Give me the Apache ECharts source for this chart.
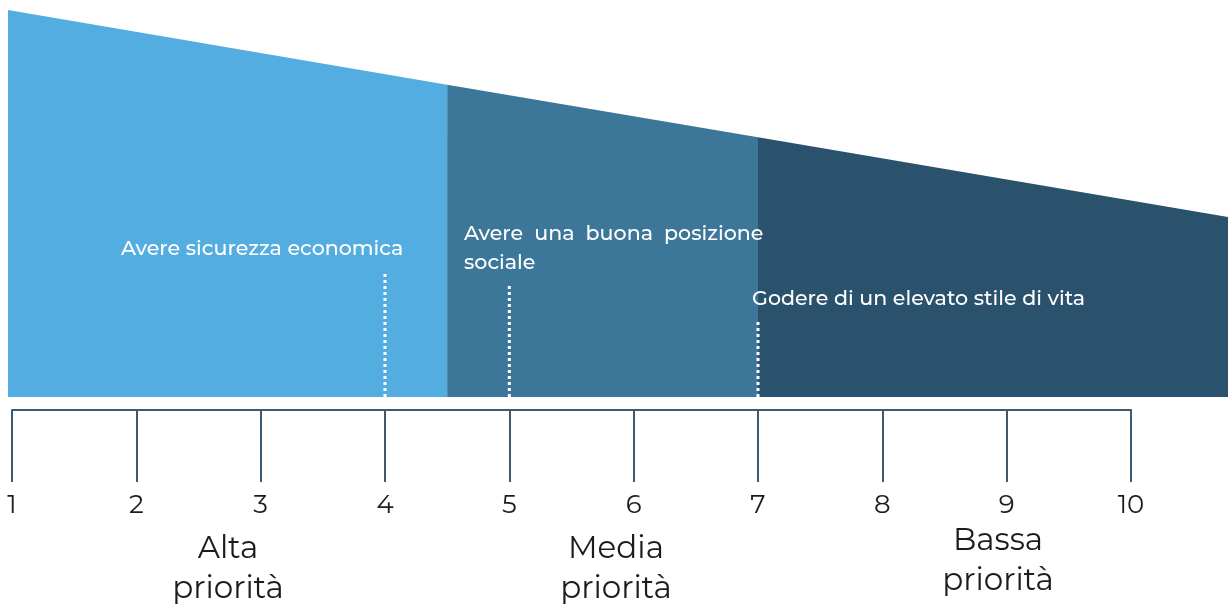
<!DOCTYPE html>
<html>
<head>
<meta charset="utf-8">
<script src="https://cdn.jsdelivr.net/npm/echarts@6/dist/echarts.min.js"></script>
<style>
html,body{margin:0;padding:0;background:#fff;}
#main{width:1228px;height:606px;}
</style>
</head>
<body>
<div id="main"></div>
<script>
// scala 1-10, forma a trapezio divisa in tre fasce
var ticks = [1,2,3,4,5,6,7,8,9,10];
var bandX = [0.968, 4.5, 7.0, 10.78];    // confini delle fasce
var bandTop = [100, 80.7, 67.1, 46.5];   // altezza del bordo superiore ai confini
var bandColors = ['#54ade0','#3c779a','#2a526c'];
var markX = [4, 5, 7];                   // linee tratteggiate
var markTop = [32.3, 28.9, 19.9];
var markText = ['Avere sicurezza economica','Avere una buona posizione sociale','Godere di un elevato stile di vita'];
var groups = ['Alta\npriorità','Media\npriorità','Bassa\npriorità'];

var font = 'Montserrat, "Open Sans", sans-serif';
var axisColor = '#3d5a73';

var series = [];
for(var i=0;i<3;i++){
    series.push({
        type:'line',
        xAxisIndex:0,
        yAxisIndex:0,
        symbol:'none',
        silent:true,
        lineStyle:{width:0},
        areaStyle:{color:bandColors[i],opacity:1},
        data:[[bandX[i],bandTop[i]],[bandX[i+1],bandTop[i+1]]]
    })
}
for(var k=0;k<markX.length;k++){
    series.push({
        type:'line',
        xAxisIndex:0,
        yAxisIndex:0,
        symbol:'none',
        silent:true,
        z:5,
        lineStyle:{color:'#fff',width:3,type:[3,3]},
        data:[[markX[k],0],[markX[k],markTop[k]]]
    })
}

var labelStyle = {fill:'#fff',fontSize:20.6,fontWeight:500,fontFamily:font};
var groupStyle = {fill:'#1c1c1c',fontSize:31,fontFamily:font,align:'center',lineHeight:40};

var option = {
    animation:false,
    grid:[
        {left:8,right:0,top:10,bottom:209},
        {left:12,right:97,top:300,bottom:196}
    ],
    xAxis:[
        {gridIndex:0,type:'value',min:bandX[0],max:bandX[3],show:false},
        {
            gridIndex:1,
            type:'value',
            min:1,
            max:10,
            interval:1,
            splitLine:{show:false},
            axisLine:{show:true,lineStyle:{color:axisColor,width:2}},
            axisTick:{show:true,length:72,lineStyle:{color:axisColor,width:2}},
            axisLabel:{margin:82,fontSize:26,color:'#1c1c1c',fontFamily:font,
                formatter:function(v){return ticks.indexOf(v)>-1?String(v):'';}}
        }
    ],
    yAxis:[
        {gridIndex:0,type:'value',min:0,max:100,show:false},
        {gridIndex:1,type:'value',min:0,max:1,show:false}
    ],
    series:series,
    graphic:[
        {type:'text',z:100,left:121,top:238,style:Object.assign({text:markText[0]},labelStyle)},
        {type:'text',z:100,left:464,top:223,style:Object.assign({text:'Avere  una  buona  posizione'},labelStyle)},
        {type:'text',z:100,left:464,top:252,style:Object.assign({text:'sociale'},labelStyle)},
        {type:'text',z:100,left:752,top:288,style:Object.assign({text:markText[2]},labelStyle)},
        {type:'text',z:100,x:228,y:529,style:Object.assign({text:groups[0]},groupStyle)},
        {type:'text',z:100,x:616,y:529,style:Object.assign({text:groups[1]},groupStyle)},
        {type:'text',z:100,x:998,y:521,style:Object.assign({text:groups[2]},groupStyle)}
    ]
};

var chart = echarts.init(document.getElementById('main'));
chart.setOption(option);
</script>
</body>
</html>
